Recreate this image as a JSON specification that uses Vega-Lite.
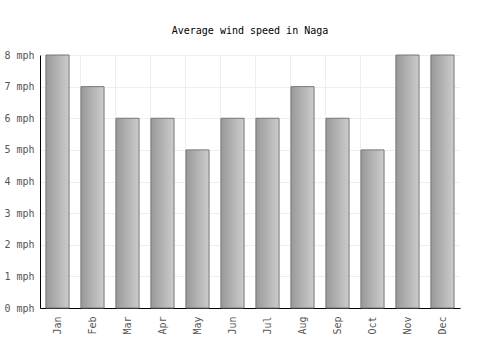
{
  "$schema": "https://vega.github.io/schema/vega-lite/v6.json",
  "width": 420,
  "height": 253,
  "autosize": {"type": "none"},
  "padding": {"left": 40, "top": 55, "right": 40, "bottom": 42},
  "background": "white",
  "title": {
    "text": "Average wind speed in Naga",
    "font": "DejaVu Sans Mono",
    "fontSize": 10,
    "fontWeight": "normal",
    "color": "#000000",
    "offset": 14,
    "anchor": "middle"
  },
  "data": {
    "values": [
      {"month": "Jan", "speed": 8},
      {"month": "Feb", "speed": 7},
      {"month": "Mar", "speed": 6},
      {"month": "Apr", "speed": 6},
      {"month": "May", "speed": 5},
      {"month": "Jun", "speed": 6},
      {"month": "Jul", "speed": 6},
      {"month": "Aug", "speed": 7},
      {"month": "Sep", "speed": 6},
      {"month": "Oct", "speed": 5},
      {"month": "Nov", "speed": 8},
      {"month": "Dec", "speed": 8}
    ]
  },
  "config": {
    "view": {"stroke": null},
    "axis": {
      "labelFont": "DejaVu Sans Mono",
      "labelFontSize": 10,
      "labelColor": "#555555",
      "gridColor": "#eeeeee",
      "gridWidth": 1,
      "domainColor": "#000000",
      "domainWidth": 1,
      "ticks": false,
      "title": null
    }
  },
  "mark": {
    "type": "bar",
    "stroke": "#777777",
    "strokeWidth": 1,
    "color": {
      "gradient": "linear",
      "x1": 0, "x2": 1, "y1": 0, "y2": 0,
      "stops": [
        {"offset": 0, "color": "#999999"},
        {"offset": 1, "color": "#cccccc"}
      ]
    }
  },
  "encoding": {
    "x": {
      "field": "month",
      "type": "nominal",
      "sort": null,
      "scale": {"paddingInner": 0.34, "paddingOuter": 0.17},
      "axis": {
        "labelAngle": -90,
        "labelAlign": "right",
        "labelBaseline": "middle",
        "labelPadding": 8,
        "grid": true,
        "bandPosition": 0,
        "domain": true
      }
    },
    "y": {
      "field": "speed",
      "type": "quantitative",
      "scale": {"domain": [0, 8]},
      "axis": {
        "values": [0, 1, 2, 3, 4, 5, 6, 7, 8],
        "labelExpr": "datum.value + ' mph'",
        "labelPadding": 6,
        "grid": true
      }
    }
  }
}
